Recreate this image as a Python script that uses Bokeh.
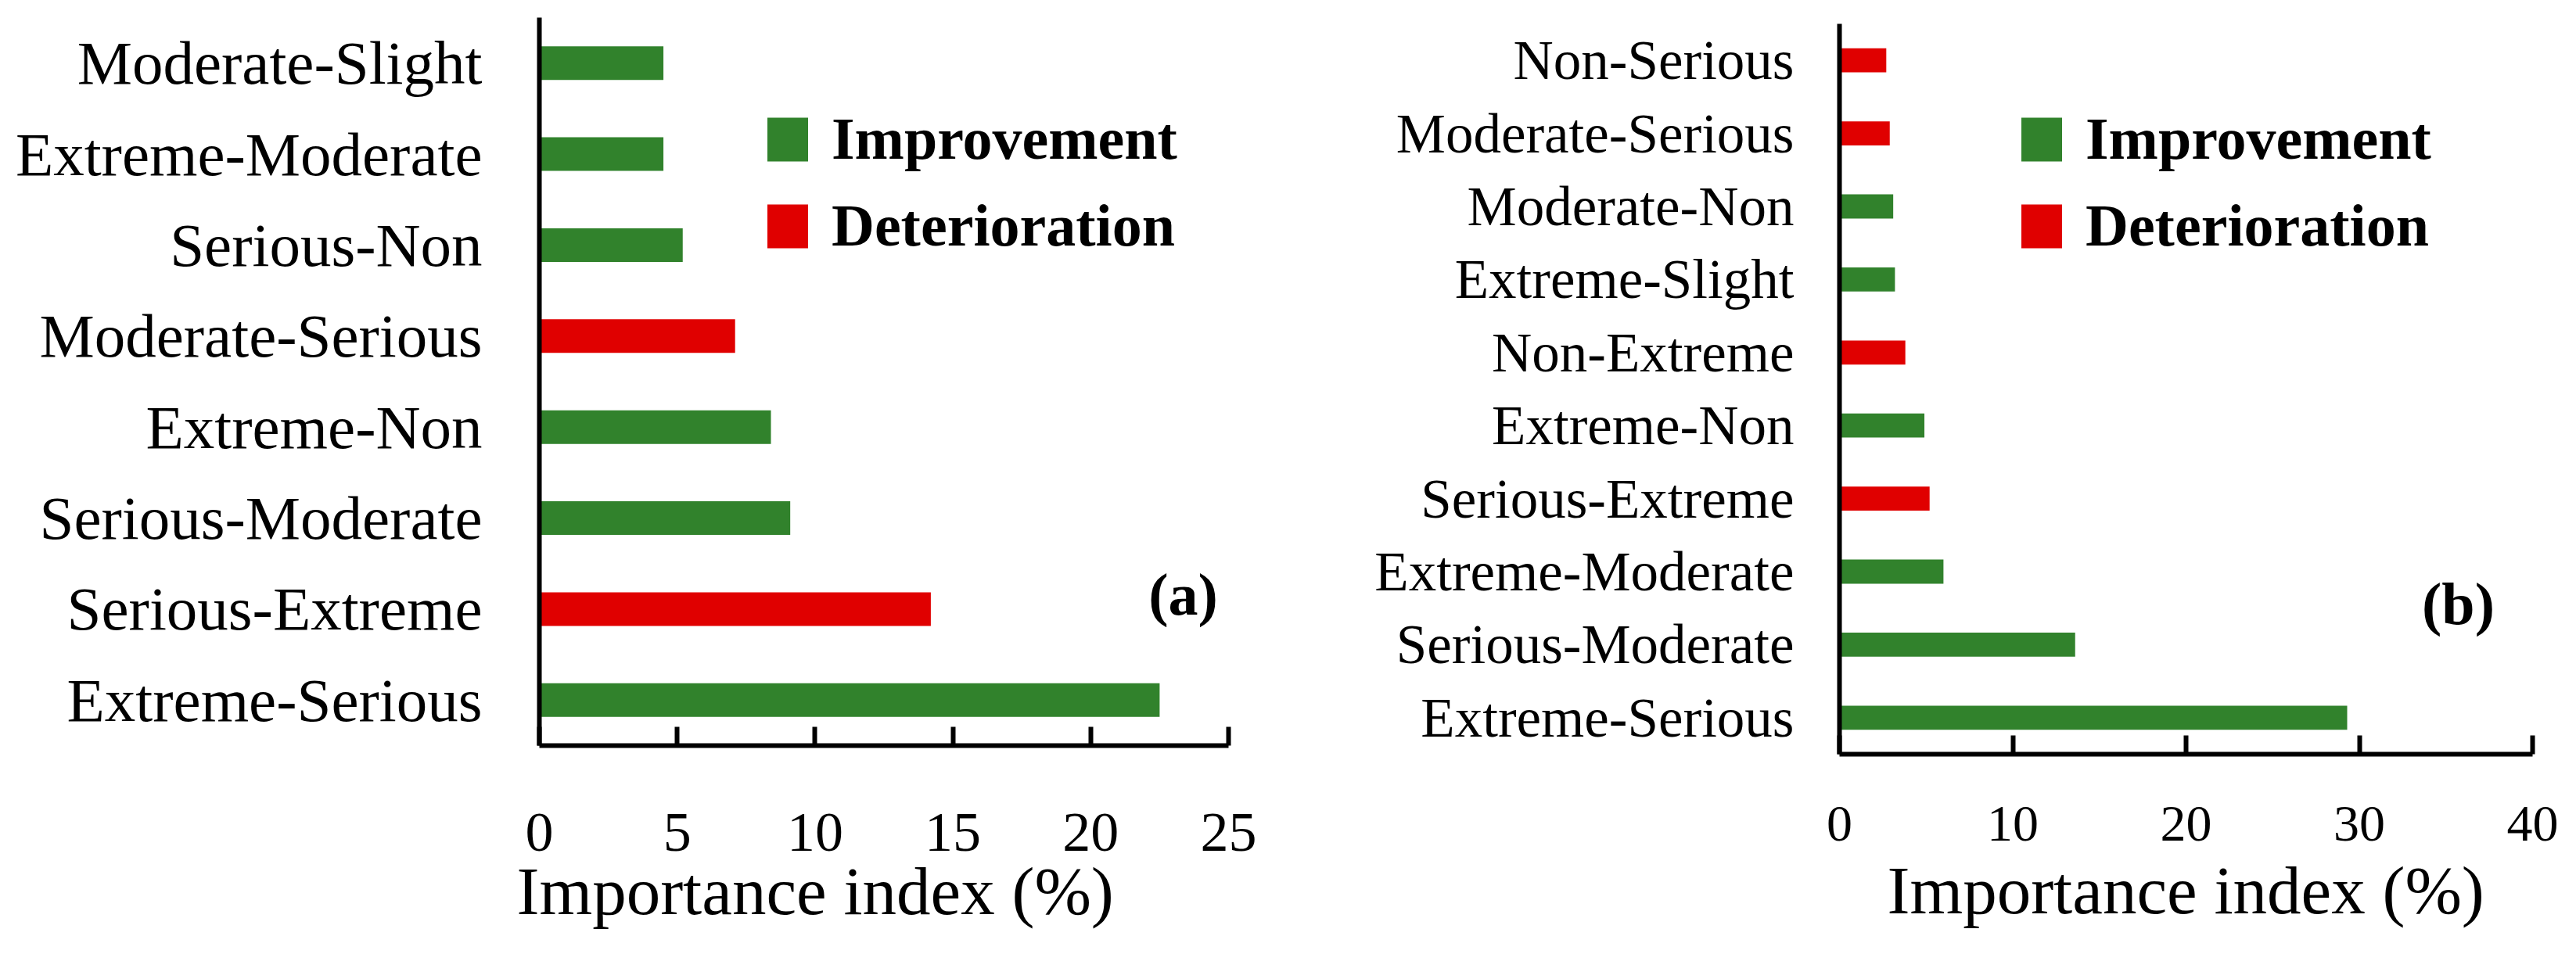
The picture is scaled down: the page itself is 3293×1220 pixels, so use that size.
from bokeh.plotting import figure
from bokeh.models import ColumnDataSource, FactorRange, Range1d, FixedTicker, Legend, LegendItem, Label, Title
from bokeh.layouts import row, column
from bokeh.embed import file_html
from bokeh.resources import INLINE

# ---------------- data ----------------
a_categories = ["Moderate-Slight", "Extreme-Moderate", "Serious-Non", "Moderate-Serious",
                "Extreme-Non", "Serious-Moderate", "Serious-Extreme", "Extreme-Serious"]
a_values = [4.5, 4.5, 5.2, 7.1, 8.4, 9.1, 14.2, 22.5]
a_types = ["Improvement", "Improvement", "Improvement", "Deterioration",
           "Improvement", "Improvement", "Deterioration", "Improvement"]
a_ticks = [0, 5, 10, 15, 20, 25]

b_categories = ["Non-Serious", "Moderate-Serious", "Moderate-Non", "Extreme-Slight", "Non-Extreme",
                "Extreme-Non", "Serious-Extreme", "Extreme-Moderate", "Serious-Moderate", "Extreme-Serious"]
b_values = [2.7, 2.9, 3.1, 3.2, 3.8, 4.9, 5.2, 6.0, 13.6, 29.3]
b_types = ["Deterioration", "Deterioration", "Improvement", "Improvement", "Deterioration",
           "Improvement", "Deterioration", "Improvement", "Improvement", "Improvement"]
b_ticks = [0, 10, 20, 30, 40]

series_names = ["Improvement", "Deterioration"]
series_colors = {"Improvement": "#31822C", "Deterioration": "#E00000"}
x_title = "Importance index (%)"

FONT = "Liberation Serif"


def make_panel(cats, vals, types, ticks, xmax, panel_tag, cfg):
    p = figure(width=cfg["width"], height=1204,
               y_range=FactorRange(factors=list(reversed(cats)), range_padding=0),
               x_range=Range1d(0, xmax),
               output_backend="svg", toolbar_location=None, align="start",
               min_border_left=cfg["bl"], min_border_right=cfg["br"],
               min_border_top=cfg["bt"], min_border_bottom=cfg["bb"])
    p.outline_line_color = None
    p.xgrid.visible = False
    p.ygrid.visible = False
    p.background_fill_color = "white"
    p.border_fill_color = "white"

    renderers = {}
    for name in series_names:
        idx = [i for i, t in enumerate(types) if t == name]
        src = ColumnDataSource(dict(y=[cats[i] for i in idx], v=[vals[i] for i in idx]))
        renderers[name] = p.hbar(y="y", right="v", left=0, height=cfg["bar_h"], source=src,
                                 fill_color=series_colors[name], line_color=None)

    xa = p.xaxis[0]
    xa.ticker = FixedTicker(ticks=ticks)
    xa.axis_line_width = 6
    xa.axis_line_color = "black"
    xa.major_tick_line_width = 6
    xa.major_tick_line_color = "black"
    xa.major_tick_in = 24
    xa.major_tick_out = 0
    xa.minor_tick_in = 0
    xa.minor_tick_out = 0
    xa.major_label_text_font = FONT
    xa.major_label_text_font_size = cfg["tick_fs"]
    xa.major_label_text_color = "black"
    xa.major_label_standoff = cfg["x_standoff"]

    ya = p.yaxis[0]
    ya.axis_line_width = 6
    ya.axis_line_color = "black"
    ya.major_tick_in = 0
    ya.major_tick_out = 0
    ya.minor_tick_in = 0
    ya.minor_tick_out = 0
    ya.major_label_text_font = FONT
    ya.major_label_text_font_size = cfg["cat_fs"]
    ya.major_label_text_color = "black"
    ya.major_label_standoff = cfg["y_standoff"]

    legend = Legend(items=[LegendItem(label=n, renderers=[renderers[n]]) for n in series_names],
                    location=cfg["leg_loc"], orientation="vertical",
                    glyph_width=65, glyph_height=70, label_standoff=24,
                    spacing=cfg["leg_spacing"], padding=0, margin=0,
                    border_line_color=None, background_fill_alpha=0,
                    label_text_font=FONT, label_text_font_style="bold",
                    label_text_font_size="76px", label_text_color="black")
    p.add_layout(legend)

    p.add_layout(Label(x=cfg["tag_x"], y=cfg["tag_y"], x_units="screen", y_units="screen",
                       text=panel_tag, text_font=FONT, text_font_style="bold",
                       text_font_size="76px", text_align="center", text_baseline="middle",
                       text_color="black"))
    p.add_layout(Title(text=x_title, align="left", offset=cfg["title_off"],
                       standoff=cfg["title_standoff"],
                       text_font=FONT, text_font_style="normal", text_font_size="87px",
                       text_color="black"), "below")
    return p


cfg_a = dict(width=1640, bl=689, br=70, bt=22, bb=251, bar_h=0.37,
             tick_fs="72px", cat_fs="79px", x_standoff=87, y_standoff=73,
             leg_loc=(285, 621), leg_spacing=24,
             tag_x=823, tag_y=194, title_off=-29, title_standoff=-4)
cfg_b = dict(width=1637, bl=711, br=40, bt=30, bb=240, bar_h=0.33,
             tick_fs="66px", cat_fs="71px", x_standoff=67, y_standoff=58,
             leg_loc=(226, 632), leg_spacing=24,
             tag_x=791, tag_y=193, title_off=61, title_standoff=20)

p1 = make_panel(a_categories, a_values, a_types, a_ticks, 25, "(a)", cfg_a)
p2 = make_panel(b_categories, b_values, b_types, b_ticks, 40, "(b)", cfg_b)

layout = row(column(p1), column(p2))
open("out.html", "w").write(file_html(layout, INLINE))
